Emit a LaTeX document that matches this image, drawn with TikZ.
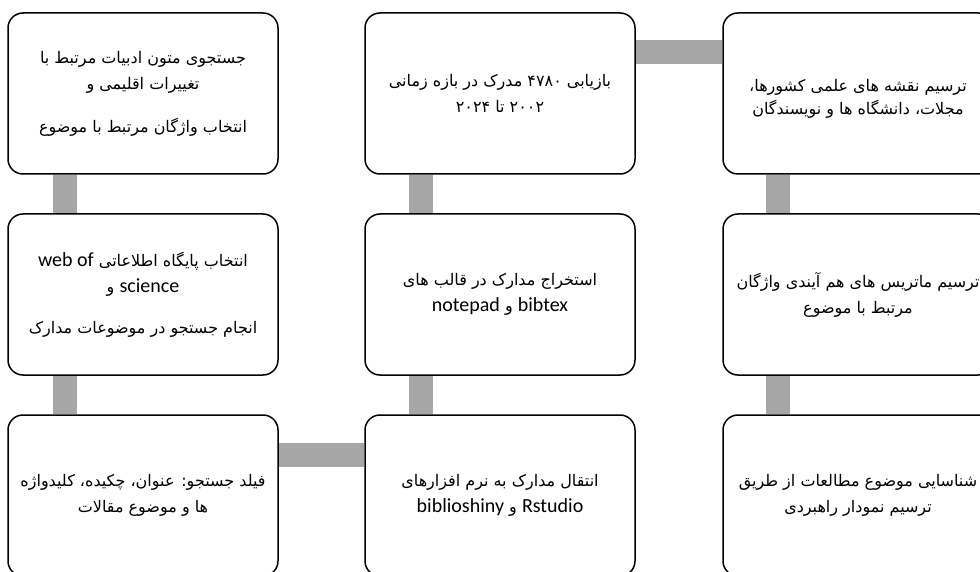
\documentclass[tikz,border=0pt]{standalone}
\usepackage{fontspec}
\usetikzlibrary{backgrounds}
\setmainfont{Carlito}
\newfontfamily\fa[Script=Arabic]{DejaVu Sans}
\newfontfamily\lat{Carlito}
\TeXXeTstate=1
\definecolor{bargray}{HTML}{A6A6A6}
\newcommand{\lw}[1]{\beginL{\lat\fontsize{20}{25}\selectfont #1}\endL{}}
\tikzset{
  box/.style={draw=black, line width=1.5pt, rounded corners=15pt, fill=white,
    minimum width=270pt, minimum height=161pt, align=center, inner sep=1pt,
    font=\fa\fontsize{16}{26}\selectfont},
  txt/.style={align=center, inner sep=1pt, font=\fa\fontsize{16}{23}\selectfont},
  bar/.style={draw=bargray, line width=24pt, line cap=butt}
}
\begin{document}
\begin{tikzpicture}[x=1pt,y=-1pt]
\path[use as bounding box, clip] (0,0) rectangle (980,572);
% row 1
\node[box] (a1) at (143,93.5) {\beginR جستجوی متون ادبیات مرتبط با\endR\\ \beginR تغییرات اقلیمی و\endR\\[17pt] \beginR انتخاب واژگان مرتبط با موضوع\endR};
\node[box] (a2) at (500,93.5) {\beginR بازیابی ۴۷۸۰ مدرک در بازه زمانی\endR\\ \beginR ۲۰۰۲ تا ۲۰۲۴\endR};
\node[box] (a3) at (858,93.5) {};
\node[txt] (a3t) at (858,99) {\beginR ترسیم نقشه های علمی کشورها،\endR\\ \beginR مجلات، دانشگاه ها و نویسندگان\endR};
% row 2
\node[box] (b1) at (143,294.5) {\beginR انتخاب پایگاه اطلاعاتی  \lw{web of}\endR\\ \beginR\lw{science} و\endR\\[15pt] \beginR انجام جستجو در موضوعات مدارک\endR};
\node[box] (b2) at (500,294.5) {\beginR استخراج مدارک در قالب های\endR\\ \beginR\lw{bibtex} و \lw{notepad}\endR};
\node[box] (b3) at (858,294.5) {\beginR ترسیم ماتریس های هم آیندی واژگان\endR\\ \beginR مرتبط با موضوع\endR};
% row 3
\node[box] (c1) at (143,495.5) {\beginR فیلد جستجو: عنوان، چکیده، کلیدواژه\endR\\ \beginR ها و موضوع مقالات\endR};
\node[box] (c2) at (500,495.5) {\beginR انتقال مدارک به نرم افزارهای\endR\\ \beginR\lw{Rstudio} و \lw{biblioshiny}\endR};
\node[box] (c3) at (858,495.5) {\beginR شناسایی موضوع مطالعات از طریق\endR\\ \beginR ترسیم نمودار راهبردی\endR};
% connectors
\begin{scope}[on background layer]
\draw[bar] ([xshift=-78.5pt]a1.south) -- ([xshift=-78.5pt]b1.north);
\draw[bar] ([xshift=-78.5pt]b1.south) -- ([xshift=-78.5pt]c1.north);
\draw[bar] ([yshift=40.5pt]c1.east) -- ([yshift=40.5pt]c2.west);
\draw[bar] ([xshift=-79.5pt]c2.north) -- ([xshift=-79.5pt]b2.south);
\draw[bar] ([xshift=-79.5pt]b2.north) -- ([xshift=-79.5pt]a2.south);
\draw[bar] ([yshift=41pt]a2.east) -- ([yshift=41pt]a3.west);
\draw[bar] ([xshift=-80.5pt]a3.south) -- ([xshift=-80.5pt]b3.north);
\draw[bar] ([xshift=-80.5pt]b3.south) -- ([xshift=-80.5pt]c3.north);
\end{scope}
\end{tikzpicture}
\end{document}
